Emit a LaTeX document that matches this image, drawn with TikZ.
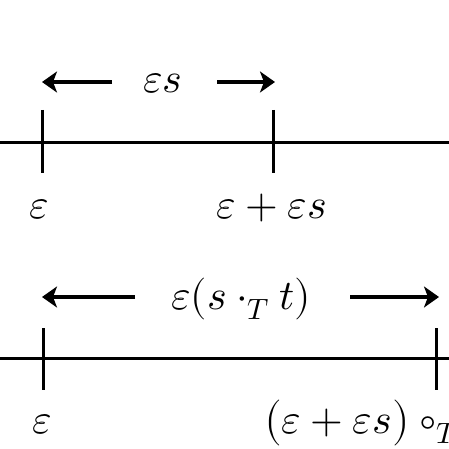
\documentclass[tikz,border=0pt]{standalone}
\usepackage{unicode-math}
\setmathfont{Latin Modern Math}
\usetikzlibrary{arrows.meta}
\begin{document}
\begin{tikzpicture}[x=1pt,y=-1pt,
  axis/.style={line width=3pt},
  tick/.style={line width=3pt},
  dimarrow/.style={line width=3.5pt,-{Stealth[length=15pt,width=21pt,inset=4pt]}},
  lbl/.style={font=\fontsize{42}{50}\selectfont,inner sep=0pt,anchor=base}]
\useasboundingbox (0,0) rectangle (449,449);
\clip (0,0) rectangle (449,449);
% top number line
\coordinate (tl) at (0,143);
\coordinate (tr) at (449,143);
\draw[axis] (tl) -- (tr);
\coordinate (ta1) at (42,110);
\coordinate (ta2) at (42,173);
\coordinate (tb1) at (273,110);
\coordinate (tb2) at (273,173);
\draw[tick] (ta1) -- (ta2);
\draw[tick] (tb1) -- (tb2);
\node[lbl] (tlab) at (163,93) {$\varepsilon s$};
\coordinate (tls) at (112,82);
\coordinate (tle) at (42,82);
\coordinate (trs) at (217,82);
\coordinate (tre) at (275,82);
\draw[dimarrow] (tls) -- (tle);
\draw[dimarrow] (trs) -- (tre);
\node[lbl] (te) at (39,218) {$\varepsilon$};
\node[lbl] (tees) at (272,218) {$\varepsilon+\varepsilon s$};
% bottom number line
\coordinate (bl) at (0,358);
\coordinate (br) at (449,358);
\draw[axis] (bl) -- (br);
\coordinate (ba1) at (43,328);
\coordinate (ba2) at (43,390);
\coordinate (bb1) at (436,328);
\coordinate (bb2) at (436,390);
\draw[tick] (ba1) -- (ba2);
\draw[tick] (bb1) -- (bb2);
\node[lbl] (blab) at (241,309) {$\varepsilon(s\mathbin{\cdot_T}t)$};
\coordinate (bls) at (135,297);
\coordinate (ble) at (42,297);
\coordinate (brs) at (350,297);
\coordinate (bre) at (439,297);
\draw[dimarrow] (bls) -- (ble);
\draw[dimarrow] (brs) -- (bre);
\node[lbl] (be) at (42,433) {$\varepsilon$};
\node[lbl,anchor=base west] (bees) at (264,433) {$\bigl(\varepsilon+\varepsilon s\bigr)\circ_T t$};
\end{tikzpicture}
\end{document}
